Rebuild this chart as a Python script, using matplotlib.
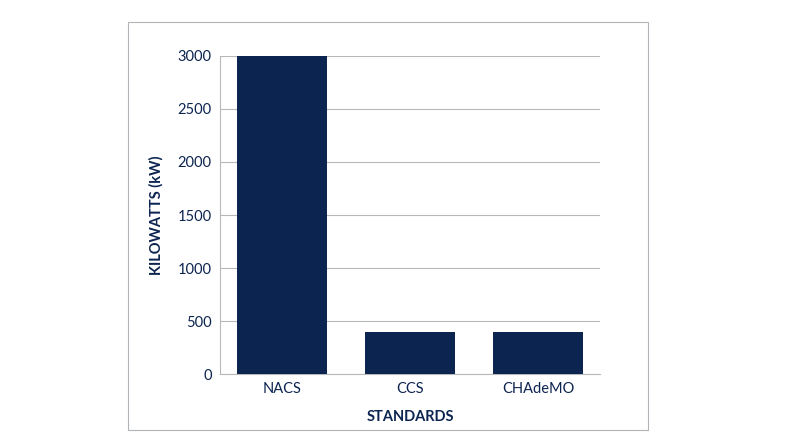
import matplotlib
matplotlib.use("Agg")
import matplotlib.pyplot as plt
from matplotlib.patches import Rectangle

categories = ["NACS", "CCS", "CHAdeMO"]
values = [3000, 400, 400]
yticks = [0, 500, 1000, 1500, 2000, 2500, 3000]

navy = "#0c2450"
plt.rcParams['font.family'] = ['Lato', 'DejaVu Sans']
fig = plt.figure(figsize=(8, 4.47), dpi=100)
fig.patches.append(Rectangle((0.16, 0.038), 0.65, 0.913, transform=fig.transFigure,
                             fill=False, edgecolor="#b0b4b8", linewidth=0.8))
ax = fig.add_axes([0.275, 0.163, 0.475, 0.712])
ax.bar(range(len(categories)), values, width=0.70, color=navy, zorder=3)
ax.set_xlim(-0.484, 2.484)
ax.set_ylim(0, 3000)
ax.set_yticks(yticks)
ax.set_xticks(range(len(categories)))
ax.set_xticklabels(categories)
ax.yaxis.grid(True, color="#b8b8b8", linewidth=0.8, zorder=0)
for s in ["top", "right"]:
    ax.spines[s].set_visible(False)
ax.spines["left"].set_color("#b8b8b8")
ax.spines["bottom"].set_color("#b8b8b8")
ax.tick_params(length=0, labelsize=10.5, labelcolor=navy, pad=6)
ax.set_ylabel("KILOWATTS (kW)", fontweight="bold", color=navy, fontsize=10.5, labelpad=10)
ax.set_xlabel("STANDARDS", fontweight="bold", color=navy, fontsize=10.5, labelpad=10)
fig.savefig("out.png", dpi=100)
